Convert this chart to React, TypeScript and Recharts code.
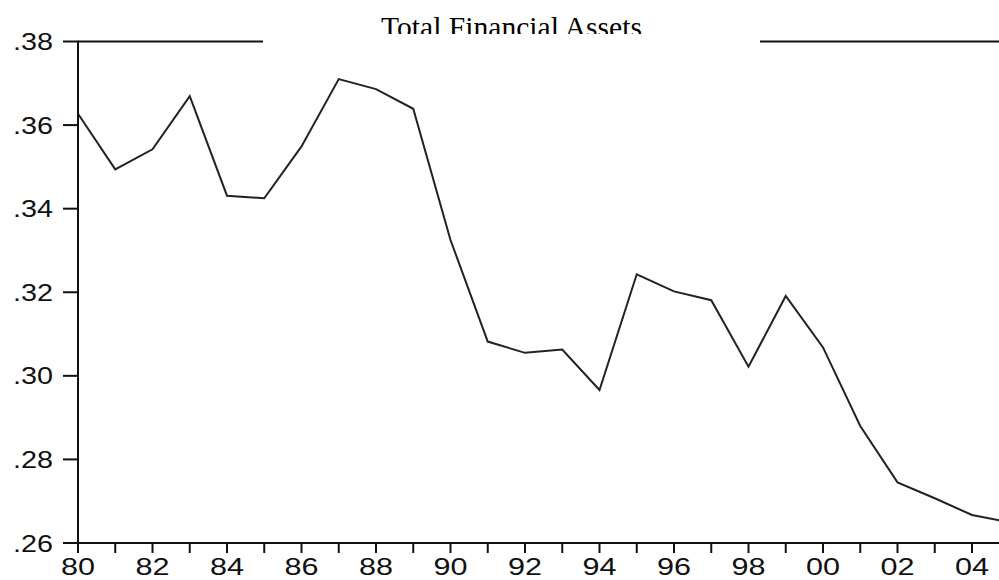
import React from 'react';
import { LineChart, Line, XAxis, YAxis, ReferenceLine } from 'recharts';

const years = [
  1980, 1981, 1982, 1983, 1984, 1985, 1986, 1987, 1988, 1989, 1990, 1991, 1992,
  1993, 1994, 1995, 1996, 1997, 1998, 1999, 2000, 2001, 2002, 2003, 2004, 2005,
];
const totalFinancialAssets = [
  0.3627, 0.3494, 0.3542, 0.3669, 0.3431, 0.3425, 0.3549, 0.371, 0.3686, 0.3639,
  0.3325, 0.3082, 0.3055, 0.3063, 0.2966, 0.3243, 0.3202, 0.3181, 0.3022, 0.3191,
  0.3068, 0.288, 0.2745, 0.2707, 0.2667, 0.265,
];
const yTicks = [0.26, 0.28, 0.3, 0.32, 0.34, 0.36, 0.38];
const title = 'Total Financial Assets';

const data = years.map((year, i) => ({ year, value: totalFinancialAssets[i] }));

const tickFont = '"Liberation Sans", Arial, sans-serif';

// labels in the source are a bit stretched sideways, so force their width
const XTick = (props: any) => {
  const { x, y, payload } = props;
  if (payload.value % 2 !== 0) return null;
  const label = String(payload.value).slice(2);
  return (
    <text
      x={Number(x)}
      y={Number(y) + 20}
      textAnchor="middle"
      fontSize={24}
      fontFamily={tickFont}
      fill="#111"
      textLength={34}
      lengthAdjust="spacingAndGlyphs"
    >
      {label}
    </text>
  );
};

// y tick: label plus its own small mark (drawn as a thin rect)
const YTick = (props: any) => {
  const { payload } = props;
  const x = Number(props.x);
  const y = Number(props.y);
  const label = payload.value.toFixed(2).replace(/^0/, '');
  return (
    <g>
      <rect x={x + 10} y={y - 1} width={16} height={2} fill="#111" />
      <text
        x={x}
        y={y + 8.5}
        textAnchor="end"
        fontSize={24}
        fontFamily={tickFont}
        fill="#111"
        textLength={40}
        lengthAdjust="spacingAndGlyphs"
      >
        {label}
      </text>
    </g>
  );
};

export default function App() {
  return (
    <div
      style={{
        position: 'fixed',
        left: 0,
        top: 0,
        width: 999,
        height: 580,
        overflow: 'hidden',
        background: '#fff',
      }}
    >
      <LineChart
        width={1010}
        height={580}
        data={data}
        margin={{ top: 41.5, right: 0.75, left: 0, bottom: 0 }}
      >
        <XAxis
          dataKey="year"
          type="number"
          domain={[1980, 2005]}
          ticks={years}
          interval={0}
          height={37}
          tickSize={10}
          tickMargin={2}
          axisLine={{ stroke: '#111', strokeWidth: 2 }}
          tickLine={{ stroke: '#111', strokeWidth: 2 }}
          tick={<XTick />}
        />
        <YAxis
          type="number"
          domain={[0.26, 0.38]}
          ticks={yTicks}
          width={78}
          tickSize={15}
          tickMargin={10}
          axisLine={{ stroke: '#111', strokeWidth: 2 }}
          tickLine={false}
          tick={<YTick />}
        />
        <ReferenceLine y={0.38} stroke="#111" strokeWidth={2} />
        <Line
          type="linear"
          dataKey="value"
          stroke="#222"
          strokeWidth={2}
          dot={false}
          isAnimationActive={false}
        />
      </LineChart>
      <svg
        width={999}
        height={60}
        style={{ position: 'absolute', left: 0, top: 0, pointerEvents: 'none' }}
      >
        <text
          x={511.5}
          y={37}
          textAnchor="middle"
          fontSize={29}
          fontFamily='"Liberation Serif", "Times New Roman", serif'
          fill="#000"
          textLength={261}
          lengthAdjust="spacingAndGlyphs"
        >
          {title}
        </text>
        {/* the title box hides the lower edge of the text and the middle of the frame */}
        <rect x={263} y={34} width={497} height={12} fill="#fff" />
      </svg>
    </div>
  );
}
